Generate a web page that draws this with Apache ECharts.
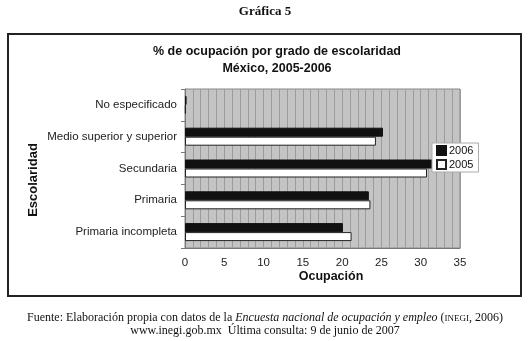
<!DOCTYPE html>
<html><head><meta charset="utf-8">
<script src="https://cdn.jsdelivr.net/npm/echarts@6/dist/echarts.min.js"></script>
<style>html,body{margin:0;padding:0;background:#fff}#c{width:530px;height:341px}</style>
</head><body><div id="c"></div>
<script>
const categories = ['No especificado','Medio superior y superior','Secundaria','Primaria','Primaria incompleta'];
const seriesNames = ['2006','2005'];
const values2006 = [0.2, 25.2, 31.5, 23.4, 20.1];
const values2005 = [0.1, 24.3, 30.8, 23.6, 21.2];
const xTicks = {min:0, max:35, interval:5};

const chart = echarts.init(document.getElementById('c'));
const sans = '"Liberation Sans", Arial, sans-serif';
const serif = '"Liberation Serif", "Times New Roman", serif';
chart.setOption({
  animation:false,
  backgroundColor:'#fff',
  title:[
    {text:'% de ocupación por grado de escolaridad\nMéxico, 2005-2006', left:272, top:38, textAlign:'center',
     textStyle:{fontFamily:sans,fontWeight:'bold',fontSize:12.5,color:'#111',lineHeight:17}}
  ],
  graphic:[
    {type:'text', x:265, y:12, style:{text:'Gráfica 5', font:'bold 13px '+serif, fill:'#111', align:'center', verticalAlign:'middle'}},
    {type:'rect', shape:{x:8,y:34,width:513,height:262}, style:{fill:'none', stroke:'#222', lineWidth:2}, z:-1},
    {type:'text', x:33, y:180, rotation:Math.PI/2, style:{text:'Escolaridad', font:'bold 13px '+sans, fill:'#111', align:'center', verticalAlign:'middle'}},
    {type:'text', x:331, y:277, style:{text:'Ocupación', font:'bold 12.5px '+sans, fill:'#111', align:'center', verticalAlign:'middle'}},
    {type:'text', x:265, y:324.5, style:{
      text:'{n|Fuente: Elaboración propia con datos de la }{i|Encuesta nacional de ocupación y empleo}{n| (}{s|INEGI}{n|, 2006)}\n{n|www.inegi.gob.mx  Última consulta: 9 de junio de 2007}',
      align:'center', verticalAlign:'middle', fill:'#111',
      rich:{n:{fontFamily:serif,fontSize:12,lineHeight:12.5,fill:'#111'},
            i:{fontFamily:serif,fontSize:12,fontStyle:'italic',lineHeight:12.5,fill:'#111'},
            s:{fontFamily:serif,fontSize:9,lineHeight:12.5,fill:'#111'}}}}
  ],
  legend:{
    data:seriesNames, orient:'vertical', left:432, top:143, z:10,
    backgroundColor:'#fff', borderColor:'#aaa', borderWidth:1, padding:[2,5,2,4],
    itemWidth:9, itemHeight:9, itemGap:3, icon:'rect',
    textStyle:{fontFamily:sans,fontSize:11,color:'#111',padding:[0,0,0,-2]}
  },
  grid:{left:185, right:70, top:89, bottom:93, show:true, backgroundColor:'#c4c4c4', borderColor:'#888', borderWidth:1},
  xAxis:{type:'value', min:xTicks.min, max:xTicks.max, interval:xTicks.interval,
    axisLine:{show:true,lineStyle:{color:'#777'}}, axisTick:{show:false},
    axisLabel:{fontFamily:sans,fontSize:11.5,color:'#222',margin:9},
    splitLine:{show:true,lineStyle:{color:'#9c9c9c',width:1}},
    minorTick:{show:false, splitNumber:5},
    minorSplitLine:{show:true,lineStyle:{color:'#9c9c9c',width:1}}
  },
  yAxis:{type:'category', data:categories, inverse:true,
    axisLine:{show:true,lineStyle:{color:'#777'}},
    axisTick:{show:true,length:4,lineStyle:{color:'#777'}},
    axisLabel:{fontFamily:sans,fontSize:11.5,color:'#222',margin:8},
    splitLine:{show:false}
  },
  series:[
    {name:'2006', type:'bar', data:values2006, barWidth:9, barGap:'0%',
     itemStyle:{color:'#111', borderColor:'#111', borderWidth:1}},
    {name:'2005', type:'bar', data:values2005, barWidth:9, barGap:'0%',
     itemStyle:{color:'#fff', borderColor:'#222', borderWidth:1}}
  ]
});
</script></body></html>
